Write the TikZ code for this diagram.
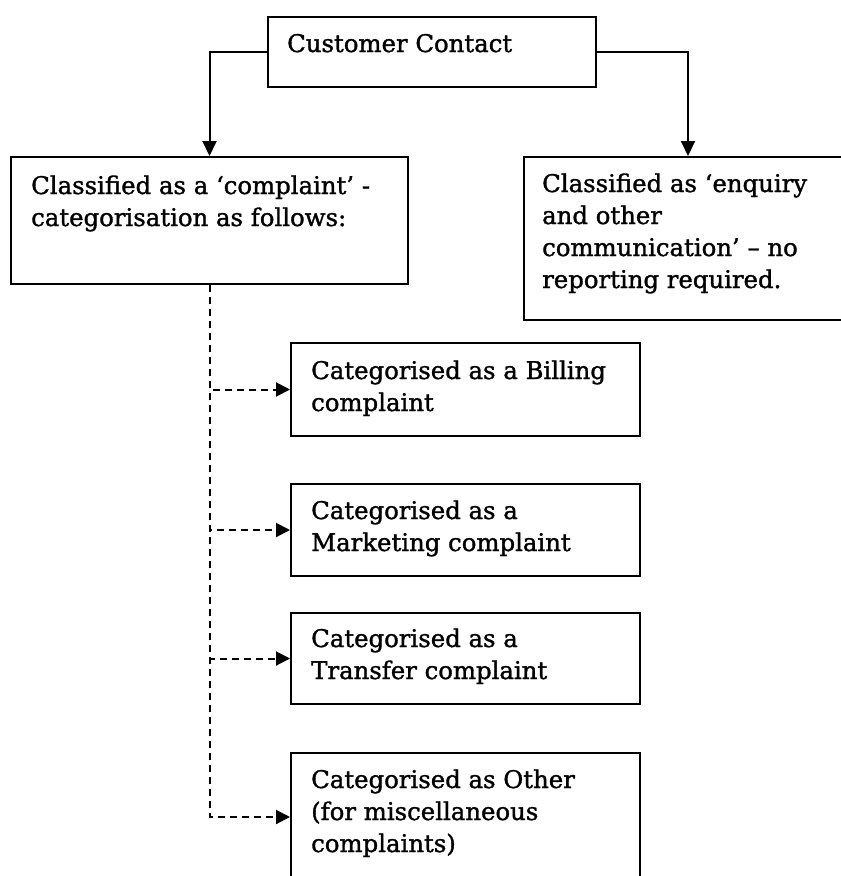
\documentclass[tikz,border=0pt]{standalone}
\usepackage{fontspec}
\setmainfont{DejaVu Serif}
\newfontfamily\heavyserif{DejaVu Serif}[FakeBold=1.3]
\usetikzlibrary{arrows.meta}
\newlength\cclen
\newcommand\tlines[1]{\begin{tabular}[t]{@{}l@{}}#1\end{tabular}}
\begin{document}
\settowidth\cclen{\fontsize{10pt}{12pt}\selectfont Customer Contact}
\pgfmathsetmacro\fsz{10*225/\cclen}
\begin{tikzpicture}[x=1pt,y=-1pt,
  box/.style={draw, line width=2pt, inner sep=0pt, anchor=north west},
  txt/.style={anchor=base west, inner sep=0pt, font=\heavyserif\fontsize{\fsz pt}{32pt}\selectfont},
  arr/.style={line width=2pt, -{Triangle[length=15pt,width=14pt]}},
  darr/.style={line width=2pt, dash pattern=on 7pt off 5pt, -{Triangle[length=14pt,width=14pt]}}]
\useasboundingbox (0,0) rectangle (841,876);
\clip (0,0) rectangle (841,876);
% boxes
\node[box, minimum width=328pt, minimum height=70pt] (cc) at (267,16) {};
\node[box, minimum width=397pt, minimum height=127pt] (cl) at (10,156) {};
\node[box, minimum width=328pt, minimum height=163pt] (en) at (523,156) {};
\node[box, minimum width=349pt, minimum height=93pt] (bil) at (290,342) {};
\node[box, minimum width=349pt, minimum height=92pt] (mkt) at (290,483) {};
\node[box, minimum width=349pt, minimum height=91pt] (trf) at (290,612) {};
\node[box, minimum width=349pt, minimum height=128pt] (oth) at (290,752) {};
% texts
\node[txt] (cct) at ([shift={(20,36)}]cc.north west) {Customer Contact};
\node[txt] (clt) at ([shift={(21,38)}]cl.north west) {\tlines{Classified as a ‘complaint’ -\\categorisation as follows:}};
\node[txt] (ent) at ([shift={(19,36)}]en.north west) {\tlines{Classified as ‘enquiry\\and other\\communication’ – no\\reporting required.}};
\node[txt] (bilt) at ([shift={(21,37)}]bil.north west) {\tlines{Categorised as a Billing\\complaint}};
\node[txt] (mktt) at ([shift={(21,36)}]mkt.north west) {\tlines{Categorised as a\\Marketing complaint}};
\node[txt] (trft) at ([shift={(21,35)}]trf.north west) {\tlines{Categorised as a\\Transfer complaint}};
\node[txt] (otht) at ([shift={(21,36)}]oth.north west) {\tlines{Categorised as Other\\(for miscellaneous\\complaints)}};
% connectors
\draw[arr] (cc.west) -| (cl.north);
\draw[arr] (cc.east) -| (en.north);
\draw[darr] (cl.south) |- (bil.west);
\draw[darr] (cl.south) |- (mkt.west);
\draw[darr] (cl.south) |- (trf.west);
\draw[darr] (cl.south) |- (oth.west);
\end{tikzpicture}
\end{document}
